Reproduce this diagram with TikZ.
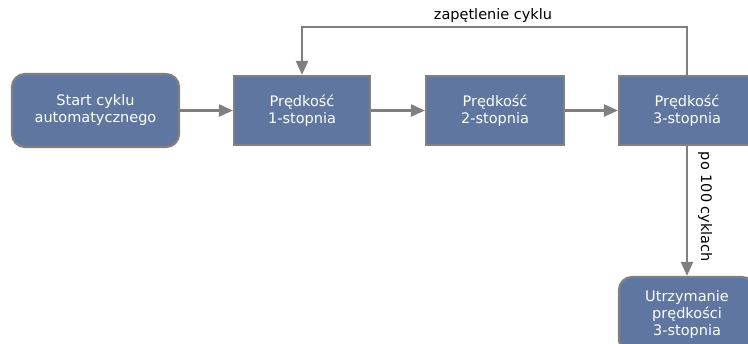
\documentclass[tikz,border=0pt]{standalone}
\usepackage{fontspec}
\setmainfont{DejaVu Sans}
\usetikzlibrary{arrows.meta}
\definecolor{boxfill}{HTML}{5F77A0}
\definecolor{boxline}{HTML}{808080}
\definecolor{arrowgray}{HTML}{7F7F7F}
\begin{document}
\begin{tikzpicture}[x=1pt,y=-1pt,
  procbox/.style={draw=boxline,line width=2.2pt,fill=boxfill,text=white,
    font=\fontsize{14.5}{17}\selectfont,align=center,inner sep=0pt},
  conn/.style={draw=arrowgray,line width=2.2pt,-{Triangle[length=14pt,width=12pt]}},
  lbl/.style={font=\fontsize{14.5}{16}\selectfont,text=black,inner sep=0pt}]
\useasboundingbox (0,0) rectangle (748,344);
\node[procbox,rounded corners=13pt,minimum width=167pt,minimum height=73pt] (start) at (95.5,110.5) {Start cyklu\\automatycznego};
\node[procbox,minimum width=136pt,minimum height=69pt] (s1) at (302,110.5) {Prędkość\\1-stopnia};
\node[procbox,minimum width=138pt,minimum height=69pt] (s2) at (495,110.5) {Prędkość\\2-stopnia};
\node[procbox,minimum width=136pt,minimum height=69pt] (s3) at (687,110.5) {Prędkość\\3-stopnia};
\node[procbox,rounded corners=13pt,minimum width=136pt,minimum height=76pt] (hold) at (687,315) {Utrzymanie\\prędkości\\3-stopnia};
\draw[conn] (start) -- (s1);
\draw[conn] (s1) -- (s2);
\draw[conn] (s2) -- (s3);
\coordinate (cr) at (687,27);
\coordinate (cl) at (302,27);
\draw[conn] (s3.north) -- (cr) -- (cl) -- (s1.north);
\node[lbl] (looplbl) at (493,16) {zapętlenie cyklu};
\draw[conn] (s3.south) -- (hold.north);
\node[lbl,rotate=-90] (downlbl) at (705,207) {po 100 cyklach};
\end{tikzpicture}
\end{document}
